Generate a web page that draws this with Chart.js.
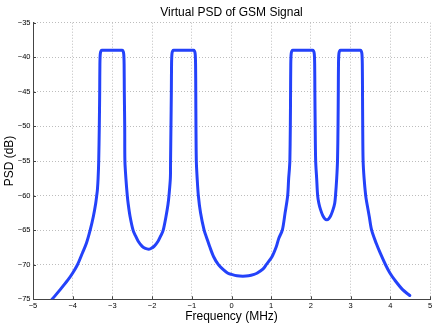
<!DOCTYPE html>
<html>
<head>
<meta charset="utf-8">
<script src="https://cdn.jsdelivr.net/npm/chart.js@4.4.0/dist/chart.umd.min.js"></script>
<style>
  html, body { margin: 0; padding: 0; background: #fff; }
  canvas { display: block; }
</style>
</head>
<body>
<canvas id="psd" width="436" height="325"></canvas>
<script>
// === Data ===
const chartTitle = 'Virtual PSD of GSM Signal';
const xLabel = 'Frequency (MHz)';
const yLabel = 'PSD (dB)';
const xTicks = [-5, -4, -3, -2, -1, 0, 1, 2, 3, 4, 5];
const yTicks = [-75, -70, -65, -60, -55, -50, -45, -40, -35];

// left tail + carrier 1
const freqMHz = [
    -4.52, -4.32, -4.12, -4.0, -3.88, -3.755, -3.655, -3.56, -3.48, -3.42, -3.395, -3.378, -3.36,
    -3.345, -3.33, -3.32, -3.315, -3.305, -3.285, -3.26,
    -2.76, -2.735, -2.715, -2.705, -2.70, -2.69, -2.685,
    // dip around -2.1
    -2.66, -2.625, -2.60, -2.555, -2.48, -2.42, -2.35, -2.25, -2.17, -2.09,
    -2.03, -1.95, -1.85, -1.78, -1.72, -1.65, -1.60, -1.575, -1.54,
    // carrier 2
    -1.535, -1.525, -1.515, -1.51, -1.50, -1.48, -1.455,
    -0.96, -0.935, -0.915, -0.905, -0.90, -0.895, -0.886,
    // wide dip around 0.3
    -0.865, -0.835, -0.78, -0.69, -0.62, -0.55, -0.45, -0.33, -0.22, -0.1, 0.0, 0.14, 0.285,
    0.43, 0.57, 0.65, 0.79, 0.875, 1.02, 1.13, 1.19, 1.28, 1.35, 1.415, 1.44, 1.458,
    // carrier 3
    1.47, 1.482, 1.488, 1.493, 1.503, 1.523, 1.548,
    2.04, 2.065, 2.085, 2.095, 2.10, 2.108, 2.12,
    // dip around 2.4
    2.145, 2.17, 2.20, 2.245, 2.30, 2.35, 2.40, 2.45, 2.50, 2.555, 2.60, 2.62, 2.65,
    // carrier 4
    2.67, 2.683, 2.69, 2.695, 2.705, 2.725, 2.75,
    3.24, 3.265, 3.285, 3.295, 3.30, 3.305, 3.315,
    // right tail
    3.34, 3.38, 3.41, 3.47, 3.53, 3.645, 3.745, 3.88, 3.99, 4.11, 4.31, 4.49
];
const psdDb = [
    -75, -73.64, -72.2, -71.2, -70, -68.3, -66.9, -65, -63.03, -61.1, -60, -59.18, -57.5,
    -55, -50, -45, -41, -39.5, -39.08, -39,
    -39, -39.08, -39.5, -41, -45, -50, -55,
    -57.5, -60, -61.3, -63.03, -65, -65.8, -66.6, -67.35, -67.65, -67.75,
    -67.65, -67.35, -66.6, -65.8, -65, -63.03, -61.3, -60, -57.5,
    -55, -50, -45, -41, -39.5, -39.08, -39,
    -39, -39.08, -39.5, -41, -45, -50, -55,
    -57.5, -60, -62.5, -65, -66.2, -67.37, -68.85, -70, -70.65, -71.2, -71.4, -71.6, -71.65,
    -71.6, -71.4, -71.2, -70.65, -70, -68.85, -67.37, -66.2, -65, -62.5, -60, -57.5, -56.2,
    -55, -50, -45, -41, -39.5, -39.08, -39,
    -39, -39.08, -39.5, -41, -45, -50, -55,
    -57.5, -60, -61.1, -62.07, -62.9, -63.35, -63.5, -63.35, -62.9, -62.07, -61.1, -60, -57.5,
    -55, -50, -45, -41, -39.5, -39.08, -39,
    -39, -39.08, -39.5, -41, -45, -50, -55,
    -57.5, -60, -61.1, -63.03, -65, -66.9, -68.3, -70, -71.2, -72.2, -73.6, -74.45
];

const lineBlue = '#2442fa';
const axisColor = '#444444';
const gridColor = '#bdbdbd';
const minus = v => String(v).replace('-', '\u2212');

Chart.defaults.font.family = "'Liberation Sans', Arial, Helvetica, sans-serif";
Chart.defaults.color = '#000';

// inward tick marks on the left and bottom axes (matlab style)
const inwardTicks = {
    id: 'inwardTicks',
    afterDraw(chart) {
        const { ctx, chartArea } = chart;
        const xs = chart.scales.x, ys = chart.scales.y;
        ctx.save();
        ctx.strokeStyle = axisColor;
        ctx.lineWidth = 1;
        ctx.beginPath();
        xTicks.forEach(t => {
            const px = Math.round(xs.getPixelForValue(t)) + 0.5;
            ctx.moveTo(px, chartArea.bottom);
            ctx.lineTo(px, chartArea.bottom - 3);
        });
        yTicks.forEach(t => {
            const py = Math.round(ys.getPixelForValue(t)) + 0.5;
            ctx.moveTo(chartArea.left, py);
            ctx.lineTo(chartArea.left + 3, py);
        });
        ctx.stroke();
        ctx.restore();
    }
};

const ctx = document.getElementById('psd').getContext('2d');
new Chart(ctx, {
    type: 'line',
    data: {
        datasets: [{
            data: freqMHz.map((f, i) => ({ x: f, y: psdDb[i] })),
            borderColor: lineBlue,
            borderWidth: 3,
            borderJoinStyle: 'round',
            borderCapStyle: 'round',
            pointRadius: 0,
            fill: false,
            tension: 0.3
        }]
    },
    options: {
        responsive: false,
        animation: false,
        devicePixelRatio: 1,
        layout: { padding: { left: 0, right: 6, top: 0, bottom: 0 } },
        plugins: {
            legend: { display: false },
            tooltip: { enabled: false },
            title: {
                display: true,
                text: chartTitle,
                fullSize: false,
                color: '#000',
                font: { size: 12, weight: 'normal' },
                padding: { top: 5, bottom: 3.3 }
            }
        },
        scales: {
            x: {
                type: 'linear',
                min: -5, max: 5,
                afterBuildTicks: s => { s.ticks = xTicks.map(v => ({ value: v })); },
                afterFit: s => { s.height = 25.7; },
                ticks: { callback: v => minus(v), font: { size: 7.5 }, padding: 2, maxRotation: 0, color: '#000' },
                grid: { color: gridColor, lineWidth: 1, drawTicks: false },
                border: { display: true, color: axisColor, width: 1, dash: [1, 2] },
                title: { display: true, text: xLabel, font: { size: 12 }, padding: { top: 0, bottom: 1.5 } }
            },
            y: {
                min: -75, max: -35,
                afterBuildTicks: s => { s.ticks = yTicks.map(v => ({ value: v })); },
                afterFit: s => { s.width = 33; },
                ticks: { callback: v => minus(v), font: { size: 7.5 }, padding: 2.5, color: '#000' },
                grid: { color: gridColor, lineWidth: 1, drawTicks: false },
                border: { display: true, color: axisColor, width: 1, dash: [1, 2] },
                title: { display: true, text: yLabel, font: { size: 12 }, padding: { top: 2, bottom: 0 } }
            }
        }
    },
    plugins: [inwardTicks]
});
</script>
</body>
</html>
